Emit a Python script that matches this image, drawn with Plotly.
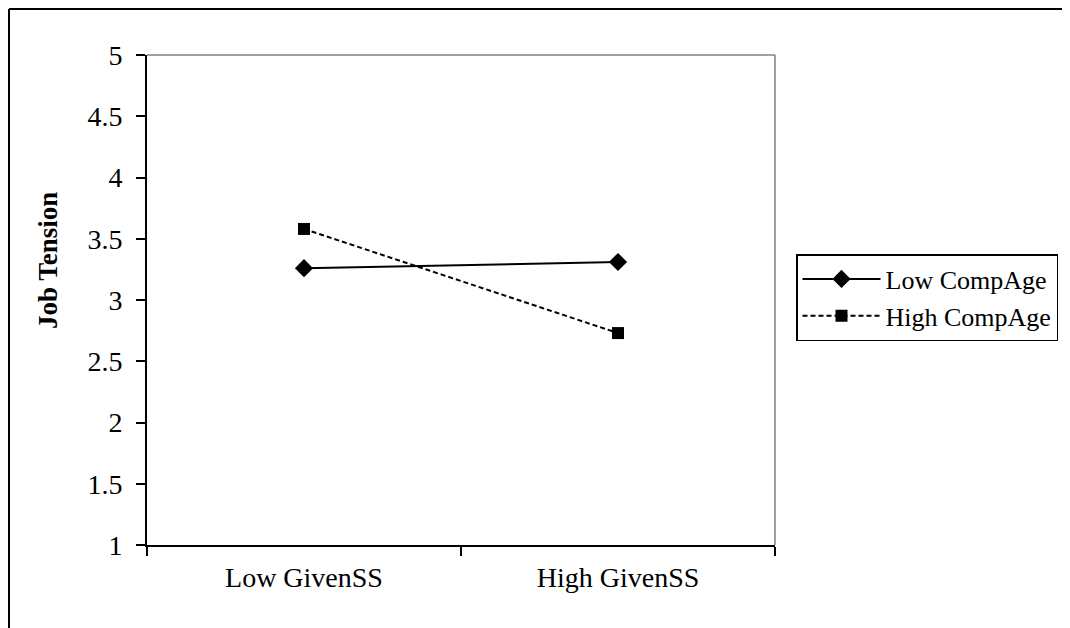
import plotly.graph_objects as go

categories = ["Low GivenSS", "High GivenSS"]
low_compage = [3.26, 3.31]
high_compage = [3.58, 2.73]
y_ticks = [1, 1.5, 2, 2.5, 3, 3.5, 4, 4.5, 5]
y_ticklabels = ["1", "1.5", "2", "2.5", "3", "3.5", "4", "4.5", "5"]

W, H = 1070, 628
OFF = 8  # page body margin offset
L, R, T, B = 147 - OFF, 775 - OFF, 55 - OFF, 545 - OFF

def px(x):
    return (x - OFF - L) / (R - L)

def py(y):
    return (B - (y - OFF)) / (B - T)

FONT = "Liberation Serif"

fig = go.Figure()
fig.add_trace(go.Scatter(
    x=categories, y=low_compage, name="Low CompAge", mode="lines+markers",
    line=dict(color="black", width=2),
    marker=dict(symbol="diamond", size=14, color="black"),
))
fig.add_trace(go.Scatter(
    x=categories, y=high_compage, name="High CompAge", mode="lines+markers",
    line=dict(color="black", width=2, dash="5px,3px"),
    marker=dict(symbol="square", size=12, color="black"),
))

fig.update_layout(
    width=W, height=H,
    margin=dict(l=L, r=W - R, t=T, b=H - B, autoexpand=False),
    paper_bgcolor="white", plot_bgcolor="white",
    font=dict(family=FONT, color="black", size=26),
    showlegend=True,
    legend=dict(
        x=px(796), y=py(254), xanchor="left", yanchor="top",
        bordercolor="black", borderwidth=1.5, bgcolor="white",
        font=dict(family=FONT, size=26, color="black"),
        itemwidth=78, tracegroupgap=0,
    ),
    xaxis=dict(
        type="category", range=[-0.5, 1.5],
        showline=True, linecolor="black", linewidth=2,
        ticks="outside", tickson="boundaries", ticklen=9, tickwidth=1.5, tickcolor="black",
        showgrid=False, zeroline=False,
        tickfont=dict(family=FONT, size=28, color="black"),
        ticklabelstandoff=6,
    ),
    yaxis=dict(
        range=[1, 5], tickvals=y_ticks, ticktext=y_ticklabels,
        showline=True, linecolor="black", linewidth=2,
        ticks="outside", ticklen=9, tickwidth=1.5, tickcolor="black",
        showgrid=False, zeroline=False,
        tickfont=dict(family=FONT, size=28, color="black"),
        ticklabelstandoff=8,
    ),
    shapes=[
        # plot area top/right border
        dict(type="line", xref="paper", yref="paper", x0=0, x1=1, y0=1, y1=1,
             line=dict(color="#808080", width=1.5), layer="below"),
        dict(type="line", xref="paper", yref="paper", x0=1, x1=1, y0=0, y1=1,
             line=dict(color="#808080", width=1.5), layer="below"),
        # outer chart border (top and left visible)
        dict(type="line", xref="paper", yref="paper", x0=px(OFF + 1), x1=px(1090), y0=py(OFF + 1), y1=py(OFF + 1),
             line=dict(color="black", width=2)),
        dict(type="line", xref="paper", yref="paper", x0=px(OFF + 1), x1=px(OFF + 1), y0=py(OFF + 1), y1=py(650),
             line=dict(color="black", width=2)),
    ],
    annotations=[
        dict(text="<b>Job Tension</b>", xref="paper", yref="paper",
             x=px(48), y=py(261), textangle=-90, showarrow=False,
             font=dict(family=FONT, size=27, color="black"),
             xanchor="center", yanchor="middle"),
    ],
)

fig.write_html("out.html")
